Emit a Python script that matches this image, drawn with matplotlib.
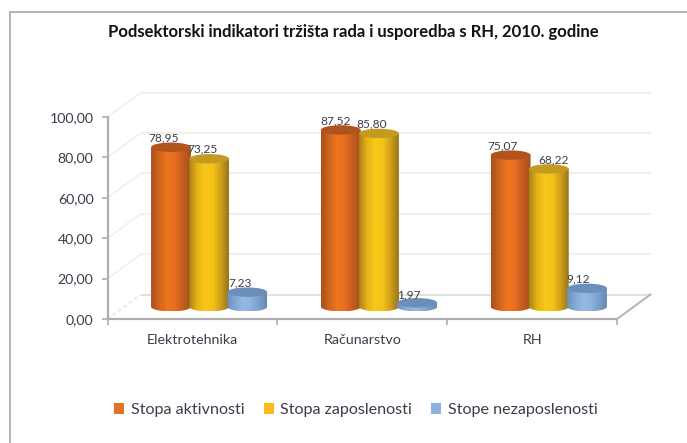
import numpy as np
import matplotlib
matplotlib.use("Agg")
import matplotlib.pyplot as plt
from matplotlib.colors import LinearSegmentedColormap
from matplotlib.lines import Line2D
from matplotlib.patches import Ellipse, Patch, Polygon

# ---- data ----
title = "Podsektorski indikatori tržišta rada i usporedba s RH, 2010. godine"
categories = ["Elektrotehnika", "Računarstvo", "RH"]
series_names = ["Stopa aktivnosti", "Stopa zaposlenosti", "Stope nezaposlenosti"]
stopa_aktivnosti = [78.95, 87.52, 75.07]
stopa_zaposlenosti = [73.25, 85.80, 68.22]
stope_nezaposlenosti = [7.23, 1.97, 9.12]
y_ticks = [0, 20, 40, 60, 80, 100]

# ---- style ----
W, H = 687, 443
FONT = ["Lato", "DejaVu Sans"]
TXT = "#3c3c4a"
legend_cols = ["#e3712a", "#fbbd1a", "#8fb1dd"]
ramps = [
    ["#a94f1c", "#d0651f", "#ee7520", "#e86f20", "#c45c20", "#a5501f"],
    ["#a98015", "#e6b318", "#f8c818", "#f5c218", "#cf9f1a", "#97741c"],
    ["#6a90ba", "#82a8d4", "#93bae6", "#8db2dd", "#7a9fcb", "#6589b3"],
]
top_cols = ["#b0531d", "#c49a20", "#6a8fb8"]
# label nudges in px, per series and per category
label_dx = [[-7, -5.5, -8], [-7, -7, 5], [-7, -8, -9]]
label_dy = [[9.5, 9, 9], [10, 9.5, 9], [9, 8, 9]]

plt.rcParams["font.family"] = FONT
fig = plt.figure(figsize=(W / 100, H / 100), dpi=100, facecolor="white")

# front plane of the 3-D box
left, right, top, bottom = 107.5, 617.0, 117.0, 319.0
ax = fig.add_axes([left / W, 1 - bottom / H, (right - left) / W, (bottom - top) / H])
ax.patch.set_alpha(0)
ax.set_xlim(0, len(categories))
ax.set_ylim(0, 100)
px_x = (right - left) / len(categories)
px_y = (bottom - top) / 100

depth_x = 33.5 / px_x
depth_y = 24.5 / px_y

# back wall, side wall and floor
for v in y_ticks:
    floor = v == 0
    wall_col = "#f1f1e6"
    ax.plot([depth_x, len(categories) + depth_x], [v + depth_y] * 2, color="#dcdcd8" if floor else wall_col,
            lw=1.6 if not floor else 1.2, clip_on=False, zorder=1, solid_capstyle="butt")
    ax.plot([0, depth_x], [v, v + depth_y], color="#e4e4da" if floor else wall_col, lw=1.2,
            ls=(0, (2, 2)) if floor else "-", clip_on=False, zorder=1)
ax.plot([len(categories), len(categories) + depth_x], [0, depth_y], color="#b4b4b4", lw=1.4, clip_on=False, zorder=1)

for s in ("top", "right"):
    ax.spines[s].set_visible(False)
for s in ("left", "bottom"):
    ax.spines[s].set_color("#aeaeae")
    ax.spines[s].set_linewidth(1.6)

ax.set_yticks(y_ticks)
ax.set_yticklabels([f"{v:.2f}".replace(".", ",") for v in y_ticks], fontsize=10.2, color=TXT)
ax.set_xticks(range(len(categories) + 1))
ax.set_xticklabels([""] * (len(categories) + 1))
ax.tick_params(axis="y", length=4, width=1.2, color="#aeaeae", pad=6)
ax.tick_params(axis="x", length=4, width=1.2, color="#aeaeae")
for i, c in enumerate(categories):
    ax.annotate(c, (i + 0.5, 0), xytext=(0, -15), textcoords="offset points", ha="center", va="center",
                fontsize=10.3, color=TXT)

# cylinders
series = [stopa_aktivnosti, stopa_zaposlenosti, stope_nezaposlenosti]
half_w = 19.9 / px_x
half_h = 4.7 / px_y
base = 0.5 * depth_y
step = 38.2 / px_x
theta = np.linspace(np.pi, 2 * np.pi, 40)

for i in range(len(categories)):
    for j, vals in enumerate(series):
        v = vals[i]
        cx = i + 0.5 + 0.5 * depth_x + (j - 1) * step
        cmap = LinearSegmentedColormap.from_list(f"c{j}", ramps[j])
        body_x = np.r_[cx + half_w * np.cos(theta), cx + half_w, cx - half_w]
        body_y = np.r_[base + half_h * np.sin(theta), base + v, base + v]
        body = Polygon(np.c_[body_x, body_y], closed=True, transform=ax.transData, fc="none", ec="none")
        ax.add_patch(body)
        z = 3 + i + j * 0.1
        im = ax.imshow(np.linspace(0, 1, 128)[None, :], cmap=cmap, aspect="auto", interpolation="bilinear",
                       extent=[cx - half_w, cx + half_w, base - half_h, base + v], zorder=z, clip_on=True)
        im.set_clip_path(body)
        ax.add_patch(Ellipse((cx, base + v), 2 * half_w, 2 * half_h, fc=top_cols[j], ec="none", zorder=z + 0.01))
        ax.annotate(f"{v:.2f}".replace(".", ","), (cx, base + v),
                    xytext=(label_dx[j][i] * 0.72, label_dy[j][i] * 0.72), textcoords="offset points",
                    ha="center", va="center", fontsize=8.6, color=TXT, zorder=20)

ax.set_xlim(0, len(categories))
ax.set_ylim(0, 100)

# title
fig.text(353 / W, 1 - 32 / H, title, ha="center", va="center", fontsize=12.0, fontweight="bold", color="#111118")

# legend
handles = [Patch(fc=c, ec="none") for c in legend_cols]
fig.legend(handles, series_names, loc="center", bbox_to_anchor=(356 / W, 1 - 410 / H), ncol=3, frameon=False,
           fontsize=11.6, labelcolor=TXT, handlelength=0.62, handleheight=0.62, handletextpad=0.4,
           columnspacing=1.2, borderpad=0)

# outer frame of the scanned chart
frame = "#b4b4b4"
fig.add_artist(Line2D([9.5 / W, 9.5 / W], [0, 1 - 12 / H], color=frame, lw=1.4))
fig.add_artist(Line2D([9.5 / W, 1], [1 - 12 / H, 1 - 12 / H], color=frame, lw=1.4))

fig.savefig("out.png", dpi=100)
